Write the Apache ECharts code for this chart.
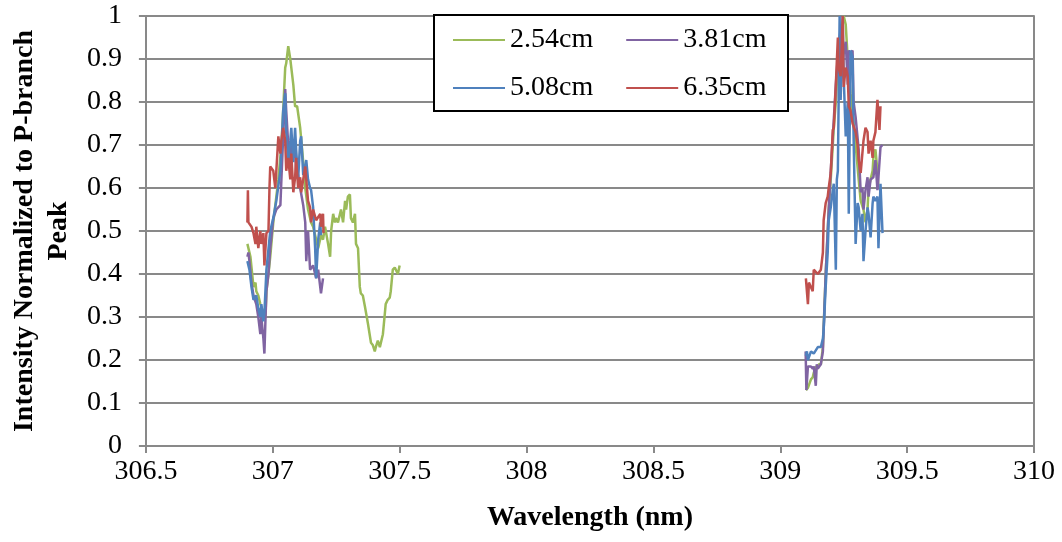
<!DOCTYPE html>
<html>
<head>
<meta charset="utf-8">
<script src="https://cdn.jsdelivr.net/npm/echarts@6/dist/echarts.min.js"></script>
<style>
  html, body { margin: 0; padding: 0; background: #fff; }
  #chart { width: 1062px; height: 542px; }
</style>
</head>
<body>
<div id="chart"></div>
<script>
// ---- Data (wavelength in nm, normalized intensity); null separates the two spectral windows ----
const seriesNames = ['2.54cm', '3.81cm', '5.08cm', '6.35cm'];
const xTicks = { min: 306.5, max: 310, step: 0.5 };
const yTicks = { min: 0, max: 1, step: 0.1 };

const wl_254 = [306.900,306.904,306.912,306.924,306.932,306.935,306.943,306.951,306.963,306.971,306.975,306.983,306.990,307.002,307.014,307.022,307.034,307.041,307.049,307.053,307.061,307.069,307.073,307.081,307.088,307.096,307.108,307.120,307.128,307.139,307.151,307.159,307.171,307.179,307.190,307.198,307.206,307.218,307.226,307.230,307.238,307.245,307.249,307.257,307.265,307.269,307.277,307.285,307.289,307.296,307.304,307.308,307.316,307.324,307.328,307.336,307.343,307.347,307.355,307.363,307.375,307.387,307.394,307.402,307.406,307.414,307.422,307.434,307.442,307.445,307.453,307.461,307.465,307.473,307.481,307.485,307.493,307.500,
  308.300,
  309.101,309.109,309.121,309.128,309.132,309.140,309.148,309.152,309.160,309.168,309.179,309.191,309.199,309.211,309.219,309.230,309.238,309.250,309.258,309.266,309.277,309.289,309.297,309.309,309.317,309.328,309.336,309.344,309.348,309.356,309.364,309.367,309.375,309.383,309.387];
const int_254 = [0.47,0.47,0.44,0.37,0.38,0.36,0.35,0.33,0.31,0.30,0.36,0.40,0.44,0.52,0.58,0.62,0.70,0.78,0.88,0.89,0.93,0.90,0.88,0.84,0.79,0.79,0.74,0.66,0.60,0.55,0.52,0.51,0.48,0.46,0.49,0.48,0.51,0.47,0.44,0.50,0.54,0.52,0.53,0.52,0.54,0.55,0.52,0.57,0.55,0.58,0.585,0.53,0.52,0.54,0.47,0.46,0.37,0.355,0.35,0.325,0.285,0.24,0.235,0.22,0.23,0.245,0.23,0.26,0.31,0.33,0.34,0.345,0.36,0.41,0.415,0.41,0.40,0.42,
  null,
  0.13,0.135,0.155,0.16,0.17,0.185,0.18,0.19,0.19,0.23,0.40,0.55,0.62,0.74,0.80,0.92,0.96,1.00,0.98,0.90,0.82,0.75,0.70,0.62,0.57,0.55,0.52,0.55,0.60,0.62,0.64,0.67,0.69,0.64,0.60];

const wl_381 = [306.900,306.904,306.908,306.916,306.924,306.935,306.943,306.951,306.955,306.963,306.967,306.971,306.975,306.983,306.990,307.002,307.014,307.030,307.034,307.041,307.049,307.053,307.061,307.069,307.073,307.081,307.088,307.092,307.100,307.108,307.120,307.128,307.132,307.139,307.147,307.159,307.171,307.179,307.187,307.190,307.198,
  308.300,
  309.100,309.103,309.109,309.121,309.128,309.132,309.140,309.144,309.148,309.160,309.168,309.179,309.191,309.199,309.211,309.219,309.230,309.238,309.246,309.258,309.266,309.270,309.277,309.285,309.289,309.297,309.309,309.317,309.324,309.328,309.336,309.344,309.348,309.356,309.367,309.375,309.383,309.387,309.395,309.403];
const int_381 = [0.44,0.45,0.43,0.38,0.35,0.33,0.30,0.26,0.30,0.25,0.215,0.29,0.36,0.40,0.46,0.53,0.55,0.56,0.62,0.72,0.83,0.78,0.70,0.66,0.72,0.67,0.70,0.64,0.63,0.60,0.56,0.52,0.43,0.50,0.41,0.42,0.39,0.41,0.37,0.355,0.39,
  null,
  0.22,0.13,0.185,0.185,0.18,0.185,0.14,0.19,0.18,0.19,0.22,0.40,0.55,0.64,0.76,0.84,0.93,0.97,0.90,0.94,0.84,0.92,0.91,0.92,0.80,0.765,0.69,0.59,0.60,0.55,0.595,0.625,0.58,0.62,0.625,0.665,0.595,0.625,0.695,0.70];

const wl_508 = [306.900,306.908,306.916,306.924,306.935,306.943,306.951,306.955,306.963,306.967,306.975,306.990,307.002,307.014,307.030,307.041,307.049,307.053,307.061,307.069,307.073,307.081,307.088,307.092,307.100,307.108,307.112,307.120,307.132,307.139,307.147,307.151,307.159,307.167,307.171,307.179,307.187,307.190,
  308.300,
  309.101,309.105,309.109,309.121,309.132,309.148,309.160,309.168,309.171,309.175,309.179,309.187,309.191,309.199,309.207,309.211,309.219,309.223,309.227,309.230,309.234,309.238,309.246,309.250,309.258,309.266,309.270,309.277,309.285,309.289,309.297,309.305,309.309,309.317,309.324,309.328,309.336,309.344,309.348,309.356,309.364,309.367,309.375,309.383,309.387,309.395,309.403];
const int_508 = [0.43,0.41,0.37,0.34,0.35,0.32,0.30,0.33,0.29,0.31,0.41,0.50,0.53,0.57,0.64,0.78,0.82,0.73,0.66,0.71,0.74,0.66,0.74,0.69,0.62,0.71,0.72,0.63,0.665,0.62,0.60,0.595,0.555,0.46,0.39,0.48,0.52,0.49,
  null,
  0.21,0.22,0.20,0.22,0.215,0.23,0.23,0.25,0.27,0.32,0.37,0.45,0.525,0.555,0.595,0.61,0.41,0.62,0.64,0.80,1.00,0.805,1.00,0.86,0.72,0.80,0.54,0.92,0.905,0.72,0.47,0.565,0.555,0.50,0.54,0.43,0.50,0.555,0.54,0.485,0.565,0.58,0.57,0.58,0.46,0.61,0.495];

const wl_635 = [306.900,306.902,306.904,306.916,306.924,306.932,306.935,306.943,306.951,306.955,306.963,306.967,306.975,306.983,306.987,306.990,307.002,307.010,307.022,307.030,307.034,307.041,307.049,307.053,307.061,307.069,307.073,307.081,307.088,307.092,307.100,307.108,307.112,307.128,307.132,307.139,307.147,307.151,307.159,307.171,307.187,307.190,307.198,307.200,
  308.300,
  309.101,309.109,309.113,309.128,309.132,309.148,309.160,309.168,309.171,309.179,309.187,309.191,309.199,309.207,309.211,309.219,309.227,309.230,309.238,309.246,309.250,309.258,309.266,309.270,309.277,309.285,309.297,309.305,309.309,309.317,309.328,309.336,309.344,309.348,309.356,309.364,309.367,309.375,309.383,309.391,309.395];
const int_635 = [0.52,0.595,0.52,0.51,0.495,0.47,0.51,0.46,0.50,0.47,0.495,0.42,0.495,0.50,0.60,0.65,0.64,0.60,0.72,0.68,0.71,0.74,0.71,0.64,0.67,0.62,0.68,0.59,0.625,0.67,0.60,0.625,0.59,0.65,0.62,0.57,0.555,0.52,0.55,0.525,0.54,0.51,0.54,0.495,
  null,
  0.39,0.33,0.38,0.36,0.41,0.40,0.41,0.45,0.525,0.565,0.58,0.60,0.635,0.735,0.74,0.84,0.95,0.88,0.86,1.00,0.835,0.88,0.86,0.79,0.78,0.75,0.73,0.70,0.665,0.635,0.71,0.74,0.73,0.68,0.71,0.67,0.71,0.73,0.805,0.735,0.79];

const seriesColors = ['#9BBB59', '#8064A2', '#4F81BD', '#C0504D'];
const allWl = [wl_254, wl_381, wl_508, wl_635];
const allInt = [int_254, int_381, int_508, int_635];

const FONT = "'Liberation Serif', 'Times New Roman', serif";
const GRID_COLOR = '#898989';

const chart = echarts.init(document.getElementById('chart'), null, { renderer: 'canvas' });

const series = seriesNames.map((name, k) => ({
  name: name,
  type: 'line',
  data: allWl[k].map((x, i) => [x, allInt[k][i]]),
  showSymbol: false,
  symbol: 'none',
  connectNulls: false,
  lineStyle: { color: seriesColors[k], width: 2.5 },
  itemStyle: { color: seriesColors[k] },
  animation: false,
  z: 2 + k * 0.1
}));

const legendCommon = {
  orient: 'horizontal',
  icon: 'rect',
  itemWidth: 52,
  itemHeight: 2,
  itemGap: 33,
  padding: 0,
  textStyle: { fontFamily: FONT, fontSize: 28, color: '#000', padding: [0, 0, 0, 0] },
  selectedMode: false,
  z: 10
};

const option = {
  backgroundColor: '#fff',
  animation: false,
  grid: { left: 142, right: 28, top: 16, bottom: 96, containLabel: false },
  xAxis: {
    type: 'value',
    min: xTicks.min, max: xTicks.max, interval: xTicks.step,
    name: 'Wavelength (nm)',
    nameLocation: 'middle',
    nameGap: 58,
    nameTextStyle: { fontFamily: FONT, fontSize: 28, fontWeight: 'bold', color: '#000' },
    axisLine: { show: true, onZero: false, lineStyle: { color: GRID_COLOR, width: 2 } },
    axisTick: { show: true, length: 7, inside: false, lineStyle: { color: GRID_COLOR, width: 2 } },
    axisLabel: { fontFamily: FONT, fontSize: 28, color: '#000', margin: 12 },
    splitLine: { show: false }
  },
  yAxis: [{
    type: 'value',
    min: yTicks.min, max: yTicks.max, interval: yTicks.step,
    name: 'Intensity Normalized to P-branch\nPeak',
    nameLocation: 'middle',
    nameRotate: 90,
    nameGap: 66,
    nameTextStyle: { fontFamily: FONT, fontSize: 28, fontWeight: 'bold', color: '#000', lineHeight: 34, align: 'center' },
    axisLine: { show: true, lineStyle: { color: GRID_COLOR, width: 2 } },
    axisTick: { show: true, length: 7, inside: false, lineStyle: { color: GRID_COLOR, width: 2 } },
    axisLabel: { fontFamily: FONT, fontSize: 28, color: '#000', margin: 24 },
    splitLine: { show: true, lineStyle: { color: GRID_COLOR, width: 2 } }
  }, {
    type: 'value',
    position: 'right',
    min: yTicks.min, max: yTicks.max, interval: yTicks.step,
    axisLine: { show: true, lineStyle: { color: GRID_COLOR, width: 2 } },
    axisTick: { show: false },
    axisLabel: { show: false },
    splitLine: { show: false }
  }],
  legend: [
    Object.assign({}, legendCommon, { data: [seriesNames[0], seriesNames[1]], left: 453, top: 26 }),
    Object.assign({}, legendCommon, { data: [seriesNames[2], seriesNames[3]], left: 453, top: 74 })
  ],
  graphic: [{
    type: 'rect',
    left: 433, top: 14,
    shape: { width: 354, height: 96 },
    style: { fill: '#fff', stroke: '#000', lineWidth: 2 },
    z: 5
  }],
  series: series
};

chart.setOption(option);
</script>
</body>
</html>
